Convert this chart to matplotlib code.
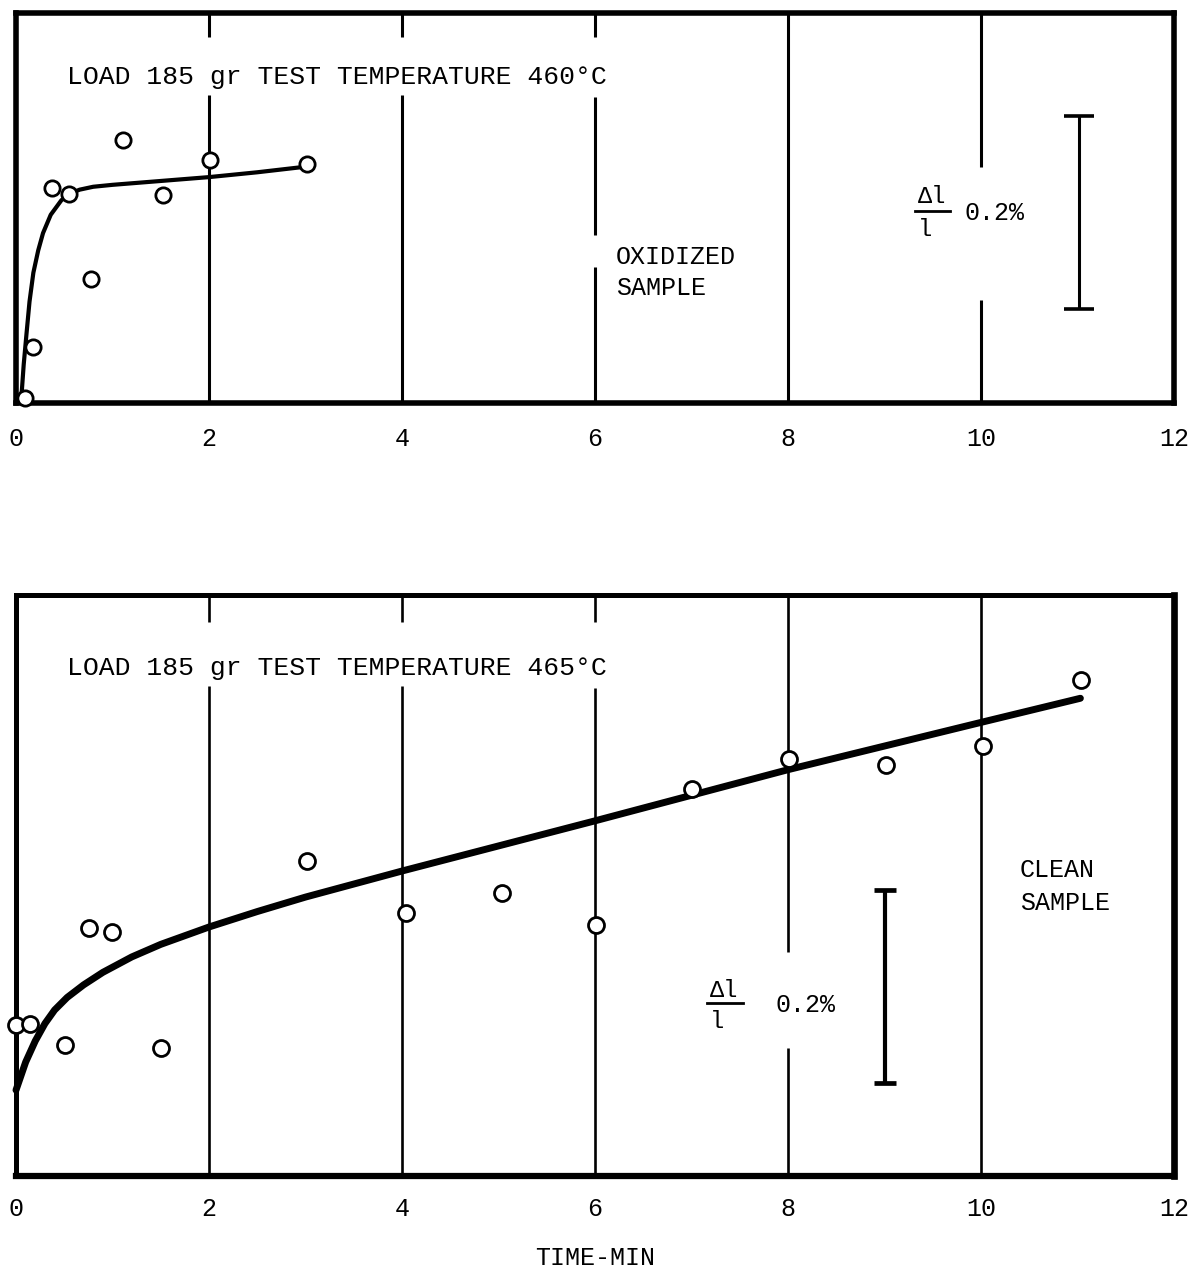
import matplotlib
matplotlib.use("Agg")
import matplotlib.pyplot as plt

# ---------------- data ----------------
# Top panel: oxidized sample, 460 C  (x: time in min, y: strain in %)
ox_time = [0.09, 0.18, 0.37, 0.55, 0.78, 1.11, 1.52, 2.01, 3.02]
ox_strain = [0.005, 0.058, 0.223, 0.216, 0.128, 0.272, 0.215, 0.252, 0.248]
ox_fit_time = [0.05, 0.06, 0.08, 0.11, 0.14, 0.18, 0.23, 0.28, 0.36, 0.47,
               0.56, 0.66, 0.80, 1.00, 1.50, 2.00, 2.50, 3.02]
ox_fit_strain = [0.000, 0.012, 0.040, 0.073, 0.105, 0.135, 0.158, 0.176, 0.195,
                 0.210, 0.217, 0.221, 0.224, 0.226, 0.230, 0.234, 0.239, 0.245]

# Bottom panel: clean sample, 465 C
cl_time = [0.0, 0.15, 0.51, 0.76, 0.99, 1.50, 3.02, 4.04, 5.04, 6.01,
           7.00, 8.01, 9.02, 10.02, 11.04]
cl_strain = [0.156, 0.158, 0.136, 0.257, 0.253, 0.133, 0.326, 0.273, 0.293,
             0.260, 0.401, 0.432, 0.426, 0.446, 0.514]
cl_fit_time = [0.0, 0.1, 0.2, 0.3, 0.4, 0.53, 0.7, 0.9, 1.2, 1.5, 2.0, 2.5,
               3.0, 4.0, 6.0, 8.0, 10.0, 11.03]
cl_fit_strain = [0.089, 0.118, 0.140, 0.158, 0.172, 0.185, 0.198, 0.211, 0.227,
                 0.240, 0.258, 0.274, 0.289, 0.316, 0.368, 0.421, 0.470, 0.495]

# scale bars (0.2 % of dl/l)
bar_x = [11.02, 9.0]
bar_lo = [0.097, 0.096]
bar_hi = [0.297, 0.296]

xticks = [0, 2, 4, 6, 8, 10, 12]
xtick_labels = ["0", "2", "4", "6", "8", "10", "12"]
grid_x = [2, 4, 6, 8, 10]

titles = ["LOAD 185 gr TEST TEMPERATURE 460°C", "LOAD 185 gr TEST TEMPERATURE 465°C"]
xlabel = "TIME-MIN"

# ---------------- drawing ----------------
FONT = ["Liberation Mono", "DejaVu Sans Mono"]
plt.rcParams["font.family"] = FONT

W, H = 1193, 1270
fig = plt.figure(figsize=(W / 100, H / 100), dpi=100)
fig.patch.set_facecolor("white")

def px_axes(l, t, r, b):
    return fig.add_axes([l / W, 1 - b / H, (r - l) / W, (b - t) / H])

ax1 = px_axes(16, 13, 1174, 403)
ax2 = px_axes(16, 595, 1174, 1176)

def style(ax, ylim, spine_w, grid_w, gaps, pad):
    ax.set_xlim(0, 12)
    ax.set_ylim(*ylim)
    ax.set_yticks([])
    ax.set_xticks(xticks)
    ax.set_xticklabels(xtick_labels, fontsize=18)
    ax.tick_params(axis="x", length=0, pad=pad)
    for s in ax.spines.values():
        s.set_linewidth(spine_w)
        s.set_color("black")
    for gx in grid_x:
        segs = [(0.0, 1.0)]
        for (g0, g1) in gaps.get(gx, []):
            new = []
            for (a, b) in segs:
                if g1 <= a or g0 >= b:
                    new.append((a, b))
                else:
                    if g0 > a:
                        new.append((a, g0))
                    if g1 < b:
                        new.append((g1, b))
            segs = new
        for (a, b) in segs:
            ax.axvline(gx, ymin=a, ymax=b, color="black", lw=grid_w,
                       solid_capstyle="butt", zorder=1)

style(ax1, (0, 0.404), 4.0, 2.2,
      {2: [(0.790, 0.938)], 4: [(0.790, 0.938)], 6: [(0.785, 0.938), (0.350, 0.430)],
       10: [(0.264, 0.605)]}, 17)
style(ax2, (0, 0.602), 3.6, 1.9,
      {2: [(0.843, 0.954)], 4: [(0.843, 0.954)], 6: [(0.840, 0.954)],
       8: [(0.220, 0.386)]}, 15)
ax2.spines["right"].set_linewidth(4.8)
ax2.spines["bottom"].set_linewidth(4.5)

# curves
ax1.plot(ox_fit_time, ox_fit_strain, color="black", lw=3.0, zorder=3,
         solid_capstyle="round", solid_joinstyle="round")
ax2.plot(cl_fit_time, cl_fit_strain, color="black", lw=5.0, zorder=3,
         solid_capstyle="round", solid_joinstyle="round", clip_on=False)

# data points
ax1.plot(ox_time, ox_strain, "o", ms=11, mfc="white", mec="black", mew=2.0,
         zorder=5, clip_on=False)
ax2.plot(cl_time, cl_strain, "o", ms=11.5, mfc="white", mec="black", mew=2.0,
         zorder=5, clip_on=False)

# scale bars
for ax, bx, lo, hi, cs, lw in [(ax1, bar_x[0], bar_lo[0], bar_hi[0], 10.5, 2.2),
                               (ax2, bar_x[1], bar_lo[1], bar_hi[1], 8.0, 3.0)]:
    mid = (lo + hi) / 2
    ax.errorbar([bx], [mid], yerr=[[mid - lo], [hi - mid]], fmt="none",
                ecolor="black", elinewidth=lw, capsize=cs, capthick=lw + 0.4, zorder=4)

# titles inside panels
ax1.text(0.53, 0.836, titles[0], transform=ax1.get_xaxis_transform(),
         fontsize=19, ha="left", va="center")
ax2.text(0.53, 0.874, titles[1], transform=ax2.get_xaxis_transform(),
         fontsize=19, ha="left", va="center")

# sample labels
ax1.text(6.22, 0.374, "OXIDIZED", transform=ax1.get_xaxis_transform(),
         fontsize=18, ha="left", va="center")
ax1.text(6.22, 0.295, "SAMPLE", transform=ax1.get_xaxis_transform(),
         fontsize=18, ha="left", va="center")
ax2.text(10.40, 0.527, "CLEAN", transform=ax2.get_xaxis_transform(),
         fontsize=18, ha="left", va="center")
ax2.text(10.40, 0.470, "SAMPLE", transform=ax2.get_xaxis_transform(),
         fontsize=18, ha="left", va="center")

# dl/l 0.2% labels
def frac_label(ax, x_left, y_num, y_line, y_den, x_line0, x_line1, x_pct, y_pct):
    tr = ax.get_xaxis_transform()
    ax.text(x_left, y_num, "Δl", transform=tr, fontsize=17, ha="left", va="center")
    ax.plot([x_line0, x_line1], [y_line, y_line], transform=tr, color="black", lw=2.0)
    ax.text(x_left, y_den, "l", transform=tr, fontsize=17, ha="left", va="center")
    ax.text(x_pct, y_pct, "0.2%", transform=tr, fontsize=18, ha="left", va="center")

frac_label(ax1, 9.35, 0.530, 0.492, 0.444, 9.32, 9.68, 9.83, 0.487)
frac_label(ax2, 7.19, 0.319, 0.298, 0.266, 7.16, 7.53, 7.87, 0.294)

ax2.set_xlabel(xlabel, fontsize=18, labelpad=18)

fig.savefig("out.png", dpi=100, facecolor="white")
